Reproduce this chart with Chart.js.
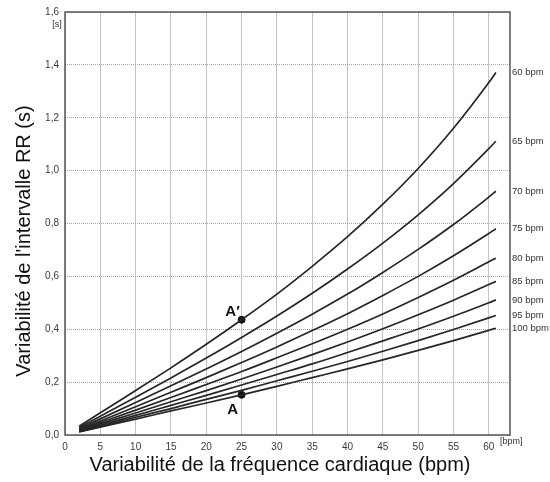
<!DOCTYPE html>
<html>
<head>
<meta charset="utf-8">
<script src="https://cdn.jsdelivr.net/npm/chart.js@4/dist/chart.umd.min.js"></script>
<style>
  body { margin: 0; background: #fff; }
  canvas { display: block; }
</style>
</head>
<body>
<canvas id="rrChart" width="550" height="482"></canvas>
<script>
// heart rate variability (bpm) along x
const hrVar = [2, 5, 10, 15, 20, 25, 30, 35, 40, 45, 50, 55, 60, 61];

// RR interval variability (s), one list per mean heart rate
const rr60  = [0.033, 0.084, 0.168, 0.254, 0.343, 0.436, 0.533, 0.638, 0.750, 0.873, 1.008, 1.160, 1.333, 1.371];
const rr65  = [0.028, 0.071, 0.143, 0.216, 0.291, 0.369, 0.450, 0.536, 0.628, 0.726, 0.833, 0.951, 1.083, 1.111];
const rr70  = [0.025, 0.061, 0.123, 0.186, 0.250, 0.316, 0.385, 0.457, 0.533, 0.615, 0.702, 0.796, 0.900, 0.922];
const rr75  = [0.021, 0.053, 0.107, 0.162, 0.217, 0.274, 0.333, 0.395, 0.459, 0.528, 0.600, 0.678, 0.762, 0.780];
const rr80  = [0.019, 0.047, 0.094, 0.142, 0.191, 0.240, 0.292, 0.345, 0.400, 0.458, 0.520, 0.585, 0.655, 0.669];
const rr85  = [0.017, 0.042, 0.083, 0.126, 0.168, 0.212, 0.257, 0.304, 0.352, 0.402, 0.455, 0.510, 0.569, 0.581];
const rr90  = [0.015, 0.037, 0.074, 0.112, 0.150, 0.189, 0.229, 0.269, 0.312, 0.356, 0.401, 0.449, 0.500, 0.511];
const rr95  = [0.013, 0.033, 0.067, 0.100, 0.135, 0.169, 0.205, 0.241, 0.278, 0.317, 0.357, 0.399, 0.443, 0.452];
const rr100 = [0.012, 0.030, 0.060, 0.091, 0.121, 0.152, 0.184, 0.217, 0.250, 0.284, 0.320, 0.357, 0.396, 0.404];

const curveNames = ['60 bpm', '65 bpm', '70 bpm', '75 bpm', '80 bpm', '85 bpm', '90 bpm', '95 bpm', '100 bpm'];
const curves = [rr60, rr65, rr70, rr75, rr80, rr85, rr90, rr95, rr100];

// marked points A' (60 bpm) and A (100 bpm)
const markNames = ['A′', 'A'];
const markX = [25, 25];
const markY = [0.436, 0.152];

const datasets = [];
for (let i = 0; i < curves.length; i++) {
  const pts = [];
  for (let j = 0; j < hrVar.length; j++) {
    pts.push({ x: hrVar[j], y: curves[i][j] });
  }
  datasets.push({
    label: curveNames[i],
    data: pts,
    borderColor: '#262626',
    borderWidth: 1.7,
    pointRadius: 0,
    fill: false,
    cubicInterpolationMode: 'monotone'
  });
}
const markPts = [];
for (let i = 0; i < markX.length; i++) {
  markPts.push({ x: markX[i], y: markY[i] });
}
datasets.push({
  label: 'marks',
  data: markPts,
  showLine: false,
  pointRadius: 3.5,
  pointBackgroundColor: '#111',
  pointBorderColor: '#111'
});

// frame, curve names, units, axis titles and A/A' labels
const extras = {
  id: 'extras',
  afterDatasetsDraw(chart) {
    const ctx = chart.ctx;
    const a = chart.chartArea;
    const xs = chart.scales.x;
    const ys = chart.scales.y;
    ctx.save();
    ctx.strokeStyle = '#555';
    ctx.lineWidth = 1.5;
    ctx.strokeRect(a.left, a.top, a.right - a.left, a.bottom - a.top);

    ctx.fillStyle = '#333';
    ctx.font = '9.5px "Liberation Sans", Arial, sans-serif';
    ctx.textAlign = 'left';
    ctx.textBaseline = 'middle';
    for (let i = 0; i < curves.length; i++) {
      const last = curves[i][curves[i].length - 1];
      ctx.fillText(curveNames[i], a.right + 2, ys.getPixelForValue(last));
    }
    ctx.font = '9px "Liberation Sans", Arial, sans-serif';
    ctx.fillText('[bpm]', a.right - 10, a.bottom + 7);
    ctx.textAlign = 'center';
    ctx.fillText('[s]', 57, 25);

    ctx.fillStyle = '#111';
    ctx.font = 'bold 15px "Liberation Sans", Arial, sans-serif';
    ctx.fillText(markNames[0], xs.getPixelForValue(markX[0]) - 9, ys.getPixelForValue(markY[0]) - 8);
    ctx.fillText(markNames[1], xs.getPixelForValue(markX[1]) - 9, ys.getPixelForValue(markY[1]) + 15);

    ctx.font = '20px "Liberation Sans", Arial, sans-serif';
    ctx.fillStyle = '#111';
    ctx.fillText('Variabilité de la fréquence cardiaque (bpm)', 280, 465);
    ctx.translate(24, 241);
    ctx.rotate(-Math.PI / 2);
    ctx.fillText('Variabilité de l\'intervalle RR (s)', 0, 0);
    ctx.restore();
  }
};

const config = {
  type: 'line',
  data: { datasets: datasets },
  options: {
    responsive: false,
    animation: false,
    layout: { padding: { top: 9, right: 40, left: 0, bottom: 0 } },
    plugins: { legend: { display: false }, tooltip: { enabled: false } },
    scales: {
      x: {
        type: 'linear',
        min: 0,
        max: 63,
        afterFit: s => { s.height = 47; },
        border: { display: false },
        grid: { color: '#c4c4c4', lineWidth: 1, drawTicks: false },
        ticks: {
          stepSize: 5,
          includeBounds: false,
          padding: 6,
          maxRotation: 0,
          color: '#3a3a3a',
          font: { size: 10, family: '"Liberation Sans", Arial, sans-serif' }
        }
      },
      y: {
        min: 0,
        max: 1.6,
        afterFit: s => { s.width = 65; },
        border: { display: false, dash: [1, 1] },
        grid: { color: '#a8a8a8', lineWidth: 1, drawTicks: false },
        ticks: {
          stepSize: 0.2,
          padding: 6,
          color: '#3a3a3a',
          font: { size: 10, family: '"Liberation Sans", Arial, sans-serif' },
          callback: v => v.toFixed(1).replace('.', ',')
        }
      }
    }
  },
  plugins: [extras]
};

new Chart(document.getElementById('rrChart'), config);
</script>
</body>
</html>
